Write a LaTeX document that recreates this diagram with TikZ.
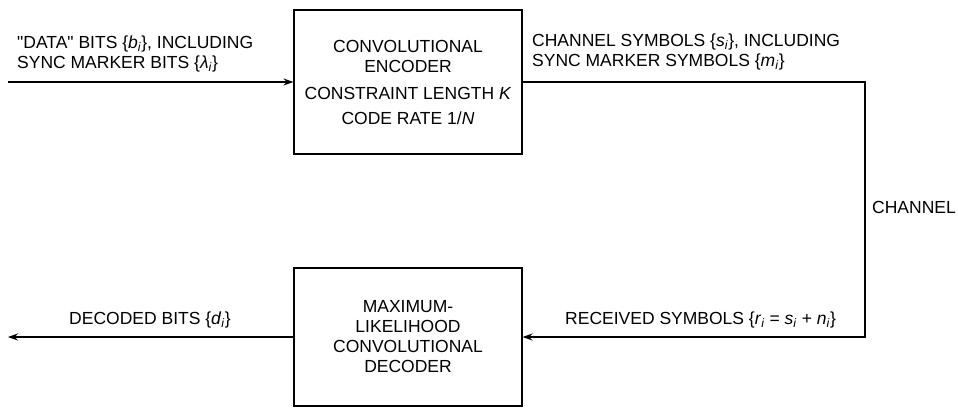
\documentclass[tikz,border=0pt]{standalone}
\usepackage{fontspec}
\setmainfont{Liberation Sans}
\usetikzlibrary{arrows.meta}
\newcommand{\sym}[2]{\textit{#1}\textsubscript{\textit{#2}}}

\begin{document}
\begin{tikzpicture}[x=1pt,y=-1pt,
    blockbox/.style={draw, line width=1.1pt, minimum width=228pt,
      minimum height=144pt, align=center, inner sep=0pt},
    sigarrow/.style={line width=1.5pt, -{Stealth[length=10pt,width=7pt]}},
    lbl/.style={font=\fontsize{17.5}{20}\selectfont, inner sep=0pt}]
    \useasboundingbox (0,0) rectangle (958,407);
    % blocks
    \node[blockbox, lbl] (enc) at (408,82)
      {CONVOLUTIONAL\\ENCODER\\[7pt]CONSTRAINT LENGTH \textit{K}\\[5pt]CODE RATE 1/\textit{N}};
    \node[blockbox, lbl, minimum height=138pt] (dec) at (408,337)
      {MAXIMUM-\\LIKELIHOOD\\CONVOLUTIONAL\\DECODER};
    % free ends
    \coordinate (in) at (8,82);
    \coordinate (out) at (8,337);
    \coordinate (chan) at (865,210);
    % connectors
    \draw[sigarrow] (in) -- (enc.west);
    \draw[sigarrow] (enc.east) -| (chan) |- (dec.east);
    \draw[sigarrow] (dec.west) -- (out);
    % labels
    \node[lbl, anchor=west, align=left] (inlbl) at (17,54)
      {\textquotedbl DATA\textquotedbl{} BITS \{\sym{b}{i}\}, INCLUDING\\SYNC MARKER BITS \{\sym{λ}{i}\}};
    \node[lbl, anchor=west, align=left] (enclbl) at (532,52)
      {CHANNEL SYMBOLS \{\sym{s}{i}\}, INCLUDING\\SYNC MARKER SYMBOLS \{\sym{m}{i}\}};
    \node[lbl, anchor=west] (chanlbl) at (872,207) {CHANNEL};
    \node[lbl, anchor=west] (reclbl) at (565,320)
      {RECEIVED SYMBOLS \{\sym{r}{i} = \sym{s}{i} + \sym{n}{i}\}};
    \node[lbl] (outlbl) at (150,320) {DECODED BITS \{\sym{d}{i}\}};
\end{tikzpicture}
\end{document}
